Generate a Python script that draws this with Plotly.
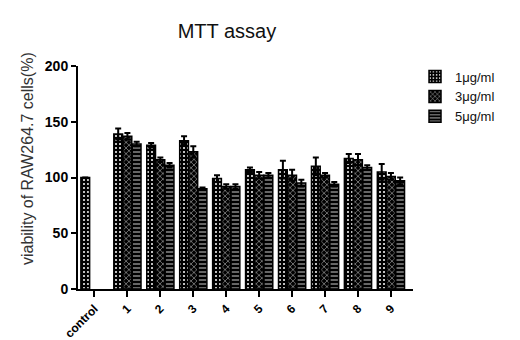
import plotly.graph_objects as go

categories = ["control", "1", "2", "3", "4", "5", "6", "7", "8", "9"]
series_names = ["1μg/ml", "3μg/ml", "5μg/ml"]
vals_1 = [100, 139, 129, 133, 99, 107, 107, 110, 117, 105]
vals_3 = [None, 137, 116, 123, 92, 102, 102, 102, 116, 101]
vals_5 = [None, 130, 111, 90, 92, 102, 95, 94, 109, 97]
err_1 = [0, 5, 2, 4, 3, 2, 8, 8, 4, 7]
err_3 = [0, 3, 2, 5, 2, 3, 5, 2, 5, 3]
err_5 = [0, 2, 2, 1, 2, 2, 3, 2, 2, 3]
y_ticks = [0, 50, 100, 150, 200]

patterns = [".", "x", "-"]
fig = go.Figure()
for name, vals, errs, pat in zip(series_names, [vals_1, vals_3, vals_5],
                                 [err_1, err_3, err_5], patterns):
    fig.add_trace(go.Bar(
        x=categories, y=vals, name=name,
        marker=dict(color="black",
                    line=dict(color="black", width=1.5),
                    pattern=dict(shape=pat, fgcolor="white", bgcolor="black",
                                 size=4, solidity=0.2, fillmode="replace")),
        error_y=dict(type="data", array=errs, visible=True, color="black",
                     thickness=2, width=3),
    ))

fig.update_layout(
    width=520, height=340,
    margin=dict(l=70, r=115, t=58, b=59, autoexpand=False),
    paper_bgcolor="white", plot_bgcolor="white",
    barmode="group", bargap=0.16, bargroupgap=0.05,
    title=dict(text="MTT assay", x=0.421, xanchor="center", y=0.932, yanchor="middle",
               font=dict(family="Arial", size=20, color="#111")),
    font=dict(family="Arial", color="black"),
    showlegend=True,
    legend=dict(x=1.006, y=1.02, xanchor="left", yanchor="top",
                font=dict(family="Arial", size=13, color="#111"),
                tracegroupgap=0, itemwidth=30, bgcolor="rgba(0,0,0,0)"),
    xaxis=dict(range=[-0.5, 9.67], showline=True, linecolor="black", linewidth=2,
               ticks="outside", ticklen=6, tickwidth=2, tickcolor="black",
               tickangle=-45, showgrid=False, zeroline=False, automargin=False,
               tickfont=dict(family="Arial", size=12, color="black", weight="bold")),
    yaxis=dict(range=[0, 200], tickvals=y_ticks, showline=True, linecolor="black",
               linewidth=2, ticks="outside", ticklen=5, tickwidth=2, tickcolor="black",
               showgrid=False, zeroline=False, automargin=False,
               tickfont=dict(family="Arial", size=14, color="black", weight="bold")),
    annotations=[dict(text="viability of RAW264.7 cells(%)", textangle=-90,
                      xref="paper", yref="paper", x=-0.149, y=0.583,
                      xanchor="center", yanchor="middle", showarrow=False,
                      font=dict(family="Arial", size=16, color="#333"))],
)

fig.write_html("out.html")
